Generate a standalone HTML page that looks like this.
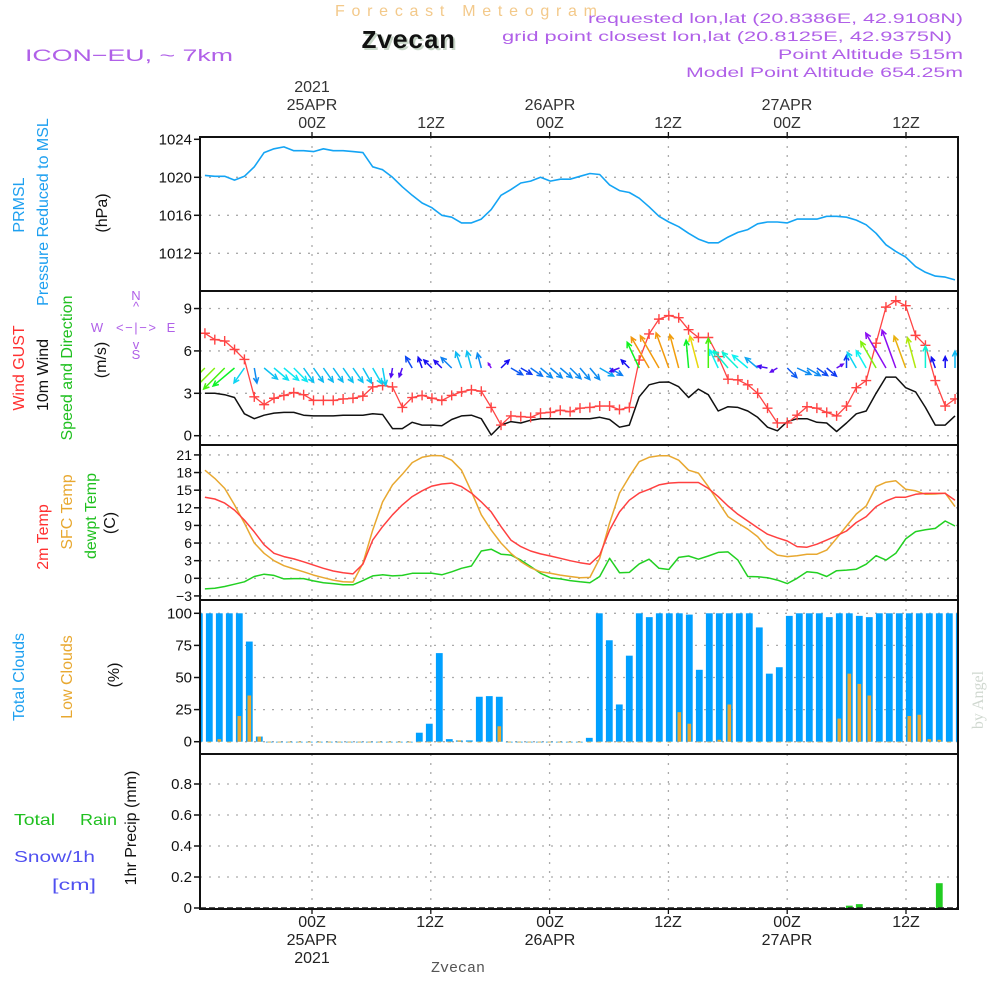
<!DOCTYPE html>
<html>
<head>
<meta charset="utf-8">
<style>
  html,body{margin:0;padding:0;background:#fff;}
  svg{display:block;font-family:"Liberation Sans",sans-serif;}
  .mono{font-family:"Liberation Mono",monospace;}
  .serif{font-family:"Liberation Serif",serif;}
</style>
</head>
<body>
<svg id="chart" width="1000" height="1000" viewBox="0 0 1000 1000" xmlns="http://www.w3.org/2000/svg">
  <rect x="0" y="0" width="1000" height="1000" fill="#fff"/>
  <!-- header -->
  <text x="335" y="16" font-size="16" fill="#f3c98a" textLength="262" lengthAdjust="spacing">Forecast Meteogram</text>
  <text class="mono" x="410" y="50" font-size="26" font-weight="bold" fill="#c8d6c8" text-anchor="middle">Zvecan</text>
  <text class="mono" x="408" y="48" font-size="26" font-weight="bold" fill="#111" text-anchor="middle">Zvecan</text>
  <text x="25" y="61" font-size="17" fill="#b060e8" textLength="208" lengthAdjust="spacingAndGlyphs">ICON−EU, ~ 7km</text>
  <text x="963" y="23" font-size="14" fill="#b060e8" text-anchor="end" textLength="375" lengthAdjust="spacingAndGlyphs">requested lon,lat (20.8386E, 42.9108N)</text>
  <text x="952" y="41" font-size="14" fill="#b060e8" text-anchor="end" textLength="450" lengthAdjust="spacingAndGlyphs">grid point closest lon,lat (20.8125E, 42.9375N)</text>
  <text x="963" y="59" font-size="14" fill="#b060e8" text-anchor="end" textLength="185" lengthAdjust="spacingAndGlyphs">Point Altitude 515m</text>
  <text x="963" y="77" font-size="14" fill="#b060e8" text-anchor="end" textLength="277" lengthAdjust="spacingAndGlyphs">Model Point Altitude 654.25m</text>

  <!-- top time labels -->
  <g font-size="16" fill="#333" text-anchor="middle">
    <text x="312" y="92">2021</text>
    <text x="312" y="110">25APR</text>
    <text x="312" y="128">00Z</text>
    <text x="431" y="128">12Z</text>
    <text x="550" y="110">26APR</text>
    <text x="550" y="128">00Z</text>
    <text x="668" y="128">12Z</text>
    <text x="787" y="110">27APR</text>
    <text x="787" y="128">00Z</text>
    <text x="906" y="128">12Z</text>
  </g>
  <!-- bottom time labels -->
  <g font-size="16" fill="#222" text-anchor="middle">
    <text x="312" y="927">00Z</text>
    <text x="312" y="945">25APR</text>
    <text x="312" y="963">2021</text>
    <text x="430" y="927">12Z</text>
    <text x="550" y="927">00Z</text>
    <text x="550" y="945">26APR</text>
    <text x="668" y="927">12Z</text>
    <text x="787" y="927">00Z</text>
    <text x="787" y="945">27APR</text>
    <text x="906" y="927">12Z</text>
  </g>
  <text class="mono" x="458" y="972" font-size="15" fill="#555" text-anchor="middle">Zvecan</text>
  <text class="serif" transform="translate(983,700) rotate(-90)" font-size="16" fill="#d0d8d0" text-anchor="middle">by Angel</text>

  <!-- left labels -->
  <text transform="translate(24,205) rotate(-90)" font-size="16" fill="#1ea0f0" text-anchor="middle">PRMSL</text>
  <text transform="translate(48,212) rotate(-90)" font-size="16" fill="#1ea0f0" text-anchor="middle">Pressure Reduced to MSL</text>
  <text transform="translate(107,213) rotate(-90)" font-size="16" fill="#111" text-anchor="middle">(hPa)</text>

  <text transform="translate(24,368) rotate(-90)" font-size="16" fill="#ff3030" text-anchor="middle">Wind GUST</text>
  <text transform="translate(48,375) rotate(-90)" font-size="16" fill="#111" text-anchor="middle">10m Wind</text>
  <text transform="translate(72,368) rotate(-90)" font-size="16" fill="#20c020" text-anchor="middle">Speed and Direction</text>
  <text transform="translate(106,360) rotate(-90)" font-size="16" fill="#111" text-anchor="middle">(m/s)</text>
  <g font-size="13" fill="#b060e8" text-anchor="middle">
    <text x="136" y="300">N</text>
    <text x="136" y="311">^</text>
    <text x="97" y="332">W</text>
    <text x="136" y="332" textLength="40" lengthAdjust="spacing">&lt;−|−&gt;</text>
    <text x="171" y="332">E</text>
    <text x="136" y="349">v</text>
    <text x="136" y="359">S</text>
  </g>

  <text transform="translate(48,537) rotate(-90)" font-size="16" fill="#ff3030" text-anchor="middle">2m Temp</text>
  <text transform="translate(72,512) rotate(-90)" font-size="16" fill="#e8a830" text-anchor="middle">SFC Temp</text>
  <text transform="translate(96,516) rotate(-90)" font-size="16" fill="#20c020" text-anchor="middle">dewpt Temp</text>
  <text transform="translate(115,523) rotate(-90)" font-size="16" fill="#111" text-anchor="middle">(C)</text>

  <text transform="translate(24,677) rotate(-90)" font-size="16" fill="#1ea0f0" text-anchor="middle">Total Clouds</text>
  <text transform="translate(72,677) rotate(-90)" font-size="16" fill="#e8a830" text-anchor="middle">Low Clouds</text>
  <text transform="translate(119,675) rotate(-90)" font-size="16" fill="#111" text-anchor="middle">(%)</text>

  <text x="14" y="825" font-size="16" fill="#20c020" textLength="41" lengthAdjust="spacingAndGlyphs">Total</text>
  <text x="80" y="825" font-size="16" fill="#20c020" textLength="37" lengthAdjust="spacingAndGlyphs">Rain</text>
  <text x="14" y="862" font-size="16" fill="#5050f0" textLength="81" lengthAdjust="spacingAndGlyphs">Snow/1h</text>
  <text x="52" y="890" font-size="16" fill="#5050f0" textLength="44" lengthAdjust="spacingAndGlyphs">[cm]</text>
  <text transform="translate(136,828) rotate(-90)" font-size="16" fill="#111" text-anchor="middle">1hr Precip (mm)</text>

  <g id="plot"></g>
</svg>
<script>
// ---- data (hourly, from 13Z 24APR = hour -11 to 17Z 27APR = hour 65) ----
const hours = [-11,-10,-9,-8,-7,-6,-5,-4,-3,-2,-1,0,1,2,3,4,5,6,7,8,9,10,11,12,13,14,15,16,17,18,19,20,21,22,23,24,25,26,27,28,29,30,31,32,33,34,35,36,37,38,39,40,41,42,43,44,45,46,47,48,49,50,51,52,53,54,55,56,57,58,59,60,61,62,63,64,65];
const pressure = [1020.2,1020.1,1020.1,1019.7,1020.1,1021.1,1022.6,1023.0,1023.2,1022.8,1022.8,1022.7,1023.0,1022.8,1022.8,1022.7,1022.6,1021.1,1020.8,1020.0,1019.0,1018.1,1017.3,1016.8,1016.0,1015.8,1015.2,1015.2,1015.6,1016.6,1018.1,1018.7,1019.4,1019.6,1020.0,1019.6,1019.8,1019.8,1020.1,
  1020.4,1020.3,1019.2,1018.6,1018.4,1017.8,1016.9,1015.9,1015.3,1014.8,1014.1,1013.5,1013.1,1013.1,1013.7,1014.2,1014.5,1015.1,1015.3,1015.3,1015.2,1015.6,1015.6,1015.6,1015.9,1015.9,1015.8,1015.5,1015.0,1014.1,1012.9,1012.2,1011.6,1010.6,1010.0,1009.6,1009.5,1009.2];
const windGust = [7.25,6.8,6.7,6.1,5.4,2.75,2.2,2.65,2.85,3.05,2.9,2.5,2.5,2.5,2.6,2.65,2.8,3.45,3.55,3.45,2.0,2.7,2.85,2.65,2.5,2.85,3.1,3.25,3.15,2.0,0.75,1.4,1.35,1.3,1.6,1.65,1.8,1.7,1.95,
  2.0,2.1,2.1,1.85,2.0,5.35,7.2,8.25,8.5,8.35,7.5,6.95,6.95,5.6,4.0,3.95,3.6,3.0,1.95,0.9,0.9,1.45,2.05,1.95,1.65,1.4,2.1,3.4,3.9,6.55,9.1,9.55,9.2,7.1,6.4,3.9,2.1,2.6];
const windSpeed = [3.0,3.0,2.9,2.7,1.55,1.2,1.45,1.6,1.65,1.65,1.45,1.4,1.4,1.4,1.45,1.45,1.45,1.55,1.5,0.5,0.5,0.95,0.75,0.75,0.7,1.15,1.4,1.45,1.2,0.05,0.75,1.0,0.9,1.1,1.2,1.2,1.2,1.2,1.2,
  1.2,1.3,1.15,0.6,0.75,2.75,3.6,3.78,3.8,3.47,2.7,3.3,2.9,1.75,2.05,2.0,1.75,1.3,0.6,0.35,1.0,1.2,1.2,0.95,0.9,0.3,0.9,1.55,1.75,3.0,4.15,4.15,3.4,3.1,2.0,0.75,0.75,1.4];
const windDir = [225,225,225,230,215,170,130,130,130,135,145,145,145,145,145,145,150,150,170,190,200,330,340,315,315,315,340,345,345,330,45,120,120,125,130,130,130,135,140,140,120,120,250,315,335,330,330,340,345,355,345,0,335,320,315,310,310,280,240,135,115,120,125,130,60,0,330,330,330,330,340,340,345,0,340,0,0];
const temp2m = [13.8,13.5,12.8,11.6,9.9,7.9,5.7,4.25,3.7,3.3,2.8,2.25,1.7,1.25,0.95,0.75,2.4,6.5,8.8,10.8,12.5,13.9,14.9,15.7,16.05,16.2,15.6,14.5,13.0,11.3,8.8,6.5,5.4,4.65,4.15,3.8,3.4,3.0,2.65,
  2.4,3.95,8.2,11.3,13.3,14.5,15.15,15.9,16.2,16.3,16.3,16.3,15.3,13.9,12.3,10.9,9.75,8.6,7.5,6.9,6.35,5.4,5.3,5.8,6.5,7.25,8.05,9.5,10.5,12.2,13.15,13.8,13.8,14.3,14.45,14.45,14.45,13.3];
const sfcTemp = [18.4,17.0,15.3,12.5,9.4,6.0,4.25,3.0,2.15,1.6,1.1,0.55,0.1,-0.3,-0.6,-0.65,2.55,8.2,13.0,15.9,17.7,19.7,20.6,20.9,20.85,20.1,18.4,14.75,10.8,8.2,6.0,4.25,2.85,1.8,1.1,0.85,0.55,0.3,0.1,
  0.15,3.4,9.4,14.5,17.3,19.85,20.6,20.85,20.85,20.1,18.4,17.9,15.6,13.0,10.5,9.4,8.35,7.1,5.1,3.95,3.7,3.85,4.1,4.1,4.8,6.8,8.9,10.95,12.3,15.6,16.35,16.6,15.15,14.9,14.3,14.35,14.5,12.2];
const dewpt = [-1.8,-1.7,-1.4,-1.0,-0.6,0.3,0.7,0.5,-0.1,-0.05,-0.05,-0.45,-0.75,-0.9,-1.1,-1.1,-0.4,0.4,0.6,0.4,0.5,0.85,0.85,0.85,0.6,1.1,1.7,2.1,4.65,4.95,4.1,3.95,3.1,2.0,0.85,0.1,-0.1,-0.4,-0.6,
  -0.75,0.3,3.4,0.95,1.0,2.45,3.25,1.7,1.5,3.55,3.8,3.25,3.8,4.4,4.5,3.1,0.3,0.25,0.1,-0.3,-0.9,0.0,1.1,0.95,0.3,1.3,1.4,1.55,2.4,3.85,3.1,4.25,6.7,7.95,8.25,8.5,9.75,8.9];
const totalClouds = [100,100,100,100,100,78,4,0,0,0,0,0,0,0,0,0,0,0,0,0,0,0,7,14,69,2,1,1,35,35.5,35,0,0,0,0,0,0,0,0,3,
  100,79,29,67,100,97,100,100,100,99,56,100,100,100,100,100,89,53,58,98,100,100,100,97,100,100,98,97,100,100,100,100,100,100,100,100,100];
const lowClouds = [0,0,2,0,20,36,4,0,0,0,0,0,0,0,0,0,0,0,0,0,0,0,0,0,0,0,1,0,0,0,12,0,0,0,0,0,0,0,0,0,
  0,0,0,0,0,0,0,0,23,14,0,0,1.5,29,0,0,0,0,0,0,0,0,0,0,18,53,45,36,0,0,0,20,21,2,1.5,0,0];
const rain = [0,0,0,0,0,0,0,0,0,0,0,0,0,0,0,0,0,0,0,0,0,0,0,0,0,0,0,0,0,0,0,0,0,0,0,0,0,0,0,0,
  0,0,0,0,0,0,0,0,0,0,0,0,0,0,0,0,0,0,0,0,0,0,0,0,0,0.015,0.025,0,0,0,0,0,0,0,0.16,0,0];
const pressureTicks = [1024,1020,1016,1012];
const windTicks = [9,6,3,0];
const tempTicks = [21,18,15,12,9,6,3,0,-3];
const cloudTicks = [100,75,50,25,0];
const precipTicks = [0.8,0.6,0.4,0.2,0];
const timeTickHours = [0,12,24,36,48,60];

// ---- scales ----
const X0 = 200, X1 = 958;
function xLine(h){ return 313.5 + h*9.87; }
function xBar(h){ return 309.3 + h*10; }
function xGrid(h){ return 312 + h*9.9; }
function yP(v){ return 139.3 + (1024 - v)*9.5; }
function yW(v){ return 435.7 - v*14.13; }
function yT(v){ return 578.3 - v*5.875; }
function yC(v){ return 741.7 - v*1.284; }
function yR(v){ return 908 - v*155; }

const NS = 'http://www.w3.org/2000/svg';
const plot = document.getElementById('plot');
function mk(tag, attrs, parent){
  const el = document.createElementNS(NS, tag);
  for (const k in attrs) el.setAttribute(k, attrs[k]);
  (parent || plot).appendChild(el);
  return el;
}

const panels = [
  {name:'pressure-panel', top:137, bot:291, ticks:pressureTicks, y:yP, fmt:v=>String(v), fs:15},
  {name:'wind-panel', top:291, bot:445, ticks:windTicks, y:yW, fmt:v=>String(v), fs:15},
  {name:'temperature-panel', top:445, bot:600, ticks:tempTicks, y:yT, fmt:v=>(v<0?'−'+(-v):String(v)), fs:14},
  {name:'clouds-panel', top:600, bot:754, ticks:cloudTicks, y:yC, fmt:v=>String(v), fs:15},
  {name:'precip-panel', top:754, bot:909, ticks:precipTicks, y:yR, fmt:v=>(v===0?'0':v.toFixed(1)), fs:15}
];

const defs = mk('defs', {});
panels.forEach((p,i)=>{
  const cp = mk('clipPath', {id:'clip'+i}, defs);
  mk('rect', {x:X0, y:p.top, width:X1-X0, height:p.bot-p.top}, cp);
});

panels.forEach((p,i)=>{
  const g = mk('g', {});
  
  
  p.ticks.forEach(v=>{
    const y = p.y(v);
    if (Math.abs(y-p.top) > 3 && Math.abs(y-p.bot) > 3) {
      const gl = mk('line', {x1:X0, x2:X1, y1:y, y2:y, stroke:'#aaa', 'stroke-width':1.3, 'stroke-dasharray':'2,7'}, g);
      
      
    }
    const tk = mk('line', {x1:194, x2:X0, y1:y, y2:y, stroke:'#111', 'stroke-width':1.5}, g);
    
    
    const t = mk('text', {x:192, y:y+5, 'font-size':p.fs, fill:'#111', 'text-anchor':'end'}, g);
    t.textContent = p.fmt(v);
    
    
  });
  timeTickHours.forEach(h=>{
    const x = xGrid(h);
    const vl = mk('line', {x1:x, x2:x, y1:p.top, y2:p.bot, stroke:'#aaa', 'stroke-width':1.3, 'stroke-dasharray':'2,7'}, g);
    
    
  });
});
timeTickHours.forEach(h=>{
  const x = xGrid(h);
  const t1 = mk('line', {x1:x, x2:x, y1:132, y2:137, stroke:'#111', 'stroke-width':1.3});
  
  
  const t2 = mk('line', {x1:x, x2:x, y1:909, y2:914, stroke:'#111', 'stroke-width':1.3});
  
  
});

function polyline(vals, xf, yf, color, width, clip, name){
  const pts = vals.map((v,i)=> xf(hours[i]).toFixed(1)+','+yf(v).toFixed(1)).join(' ');
  const el = mk('polyline', {points:pts, fill:'none', stroke:color, 'stroke-width':width, 'stroke-linejoin':'round', 'clip-path':'url(#clip'+clip+')'});
  
  
  return el;
}

polyline(pressure, xLine, yP, '#14a4f4', 1.6, 0, 'pressure-line');

polyline(windSpeed, xLine, yW, '#111', 1.5, 1, 'wind-speed-line');
polyline(windGust, xLine, yW, '#ff4444', 1.3, 1, 'wind-gust-line');
windGust.forEach((v,i)=>{
  const x = xLine(hours[i]), y = yW(v);
  const c = mk('path', {d:`M${x-5},${y}H${x+5}M${x},${y-5}V${y+5}`, stroke:'#ff4444', 'stroke-width':1.4, 'clip-path':'url(#clip1)'});
  
  
});

const colorStops = [[0,270],[0.6,255],[1.0,220],[1.3,200],[1.6,185],[2.2,165],[2.8,120],[3.1,75],[3.5,35],[3.9,38],[4.2,320]];
function windColor(s){
  let h = colorStops[colorStops.length-1][1];
  for (let k=0;k<colorStops.length-1;k++){
    const a=colorStops[k], b=colorStops[k+1];
    if (s>=a[0] && s<=b[0]) { h = a[1] + (b[1]-a[1])*(s-a[0])/(b[0]-a[0]); break; }
  }
  if (s<colorStops[0][0]) h = colorStops[0][1];
  return 'hsl('+h.toFixed(0)+',90%,'+(h>40&&h<90?'48%':'50%')+')';
}
windDir.forEach((d,i)=>{
  const s = windSpeed[i];
  const L = 5 + s*8.5;
  const x = xLine(hours[i]), y = 368;
  const a = d*Math.PI/180;
  const dx = Math.sin(a), dy = -Math.cos(a);
  const hx = x + dx*L, hy = y + dy*L;
  const hl = Math.min(6, L*0.45);
  const b1 = a + Math.PI - 0.45, b2 = a + Math.PI + 0.45;
  const p = `M${x.toFixed(1)},${y}L${hx.toFixed(1)},${hy.toFixed(1)}M${(hx+Math.sin(b1)*hl).toFixed(1)},${(hy-Math.cos(b1)*hl).toFixed(1)}L${hx.toFixed(1)},${hy.toFixed(1)}L${(hx+Math.sin(b2)*hl).toFixed(1)},${(hy-Math.cos(b2)*hl).toFixed(1)}`;
  const el = mk('path', {d:p, stroke:windColor(s), 'stroke-width':1.5, fill:'none', 'clip-path':'url(#clip1)'});
  
  
});

polyline(dewpt, xLine, yT, '#22d022', 1.5, 2, 'dewpoint-line');
polyline(sfcTemp, xLine, yT, '#e8a830', 1.5, 2, 'sfc-temp-line');
polyline(temp2m, xLine, yT, '#ff4040', 1.5, 2, 'temp-2m-line');

totalClouds.forEach((v,i)=>{
  const x = xBar(hours[i]);
  const b = mk('rect', {x:x-3.4, y:yC(v), width:6.8, height:Math.max(0.8, yC(0)-yC(v)), fill:'#00a0ff', 'clip-path':'url(#clip3)'});
  
  
});
lowClouds.forEach((v,i)=>{
  const x = xBar(hours[i]);
  const b = mk('rect', {x:x-1.8, y:yC(v), width:3.6, height:Math.max(0.8, yC(0)-yC(v)), fill:'#e8a830', 'clip-path':'url(#clip3)'});
  
  
});

rain.forEach((v,i)=>{
  if (v<=0) return;
  const x = xBar(hours[i]);
  const b = mk('rect', {x:x-3.4, y:yR(v), width:6.8, height:yR(0)-yR(v), fill:'#22cc22', 'clip-path':'url(#clip4)'});
  
  
});
const zl = mk('line', {x1:X0, x2:X1, y1:908, y2:908, stroke:'#222', 'stroke-width':1.5, 'stroke-dasharray':'6,3'});



panels.forEach((p,i)=>{
  const r = mk('rect', {x:X0, y:p.top, width:X1-X0, height:p.bot-p.top, fill:'none', stroke:'#111', 'stroke-width':2});
  
  
});
</script>
</body>
</html>
